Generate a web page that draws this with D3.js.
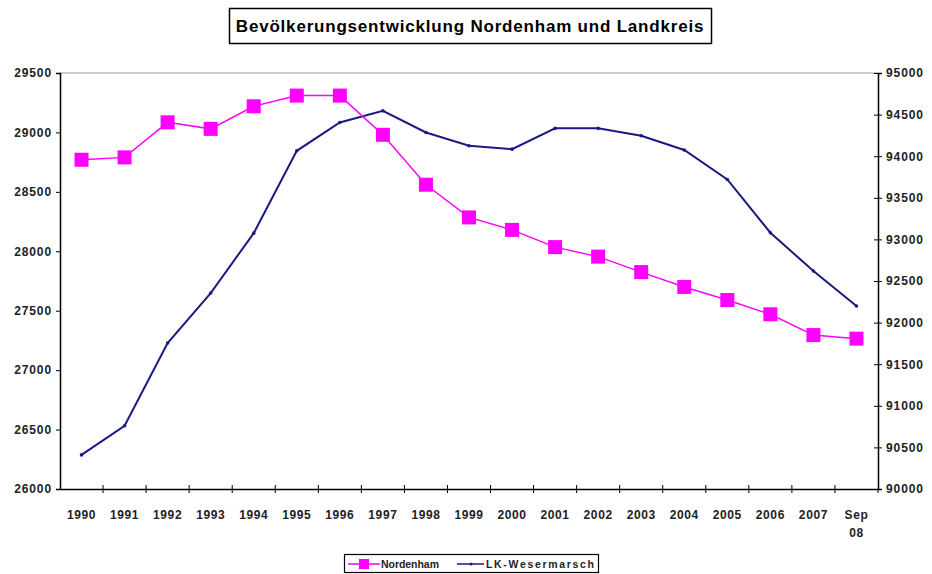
<!DOCTYPE html>
<html>
<head>
<meta charset="utf-8">
<script src="https://cdn.jsdelivr.net/npm/d3@7"></script>
<style>
  body { margin: 0; background: #fff; }
  svg { font-family: "Liberation Sans", Arial, sans-serif; }
</style>
</head>
<body>
<svg id="chart" width="932" height="574"></svg>
<script>
// categories on the x axis
const years = ["1990", "1991", "1992", "1993", "1994", "1995", "1996", "1997", "1998", "1999",
  "2000", "2001", "2002", "2003", "2004", "2005", "2006", "2007", "Sep 08"];
// Nordenham (left axis)
const nordenham = [28770, 28790, 29085, 29030, 29220, 29310, 29310, 28980, 28560, 28285,
  28180, 28035, 27955, 27825, 27700, 27590, 27470, 27295, 27265];
// LK-Wesermarsch (right axis)
const wesermarsch = [90410, 90760, 91755, 92355, 93075, 94065, 94405, 94545, 94285, 94125,
  94085, 94335, 94335, 94245, 94075, 93720, 93080, 92620, 92200];
const leftTicks = [26000, 26500, 27000, 27500, 28000, 28500, 29000, 29500];
const rightTicks = [90000, 90500, 91000, 91500, 92000, 92500, 93000, 93500, 94000, 94500, 95000];

const svg = d3.select("#chart");
const plotL = 60, plotR = 878, plotT = 73, plotB = 489;

let x = d3.scaleBand()
  .domain(years)
  .range([plotL, plotR]);

let yL = d3.scaleLinear()
  .domain([26000, 29500])
  .range([plotB, plotT]);

let yR = d3.scaleLinear()
  .domain([90000, 95000])
  .range([plotB, plotT]);

// plot area frame (gray top line)
svg.append("line")
  .attr("x1", plotL).attr("x2", plotR)
  .attr("y1", plotT).attr("y2", plotT)
  .attr("stroke", "#999").attr("stroke-width", 1);

// left axis
let gL = svg.append("g")
  .attr("transform", "translate(" + plotL + ",0)")
  .call(d3.axisLeft(yL).tickValues(leftTicks).tickSize(4).tickFormat(d3.format("d")));
gL.selectAll("text")
  .attr("x", -8)
  .style("font-size", "12px").style("font-weight", "bold").style("letter-spacing", "0.9px")
  .attr("fill", "#222");

// right axis
let gR = svg.append("g")
  .attr("transform", "translate(" + plotR + ",0)")
  .call(d3.axisRight(yR).tickValues(rightTicks).tickSize(4).tickFormat(d3.format("d")));
gR.selectAll(".tick line").attr("x1", -4);
gR.selectAll("text")
  .attr("x", 8)
  .style("font-size", "12px").style("font-weight", "bold").style("letter-spacing", "0.9px")
  .attr("fill", "#222");

// x axis, ticks between categories
let gX = svg.append("g")
  .attr("transform", "translate(0," + plotB + ")")
  .call(d3.axisBottom(x).tickSize(0).tickFormat(""));
gX.selectAll(".tick").remove();
years.forEach((d, i) => {
  if (i === 0) return;
  gX.append("line")
    .attr("x1", x(d)).attr("x2", x(d))
    .attr("y1", -4).attr("y2", 4)
    .attr("stroke", "#000");
});
gX.append("line")
  .attr("x1", plotR).attr("x2", plotR).attr("y1", 0).attr("y2", 4).attr("stroke", "#000");

svg.selectAll(".domain").attr("stroke", "#000").attr("stroke-width", 1.5);

svg.append("g").selectAll("text")
  .data(years)
  .enter()
  .append("text")
    .attr("x", d => x(d) + x.bandwidth() / 2)
    .attr("y", 519)
    .attr("text-anchor", "middle")
    .style("font-size", "12px").style("font-weight", "bold").style("letter-spacing", "0.6px")
    .attr("fill", "#222")
    .each(function(d) {
      let parts = d.split(" ");
      let t = d3.select(this);
      parts.forEach((p, i) => {
        t.append("tspan")
          .attr("x", x(d) + x.bandwidth() / 2)
          .attr("dy", i === 0 ? 0 : 18)
          .text(p);
      });
    });

// LK-Wesermarsch line
let lineR = d3.line()
  .x((d, i) => x(years[i]) + x.bandwidth() / 2)
  .y(d => yR(d));
svg.append("path")
  .datum(wesermarsch)
  .attr("fill", "none")
  .attr("stroke", "#1a1a80")
  .attr("stroke-width", 2)
  .attr("d", lineR);
svg.append("g").selectAll("circle")
  .data(wesermarsch)
  .enter()
  .append("circle")
    .attr("cx", (d, i) => x(years[i]) + x.bandwidth() / 2)
    .attr("cy", d => yR(d))
    .attr("r", 1.8)
    .attr("fill", "#1a1a80");

// Nordenham line
let lineL = d3.line()
  .x((d, i) => x(years[i]) + x.bandwidth() / 2)
  .y(d => yL(d));
svg.append("path")
  .datum(nordenham)
  .attr("fill", "none")
  .attr("stroke", "#ff00ff")
  .attr("stroke-width", 1.5)
  .attr("d", lineL);
svg.append("g").selectAll("rect")
  .data(nordenham)
  .enter()
  .append("rect")
    .attr("x", (d, i) => x(years[i]) + x.bandwidth() / 2 - 7)
    .attr("y", d => yL(d) - 7)
    .attr("width", 14)
    .attr("height", 14)
    .attr("fill", "#ff00ff");

// title
svg.append("rect")
  .attr("x", 229.5).attr("y", 8.5)
  .attr("width", 482).attr("height", 35)
  .attr("fill", "#fff").attr("stroke", "#000").attr("stroke-width", 1.5);
svg.append("text")
  .attr("x", 470).attr("y", 32)
  .attr("text-anchor", "middle")
  .style("font-size", "17px").style("font-weight", "bold").style("letter-spacing", "0.8px")
  .text("Bevölkerungsentwicklung Nordenham und Landkreis");

// legend
let lg = svg.append("g");
lg.append("rect")
  .attr("x", 344.5).attr("y", 554.5)
  .attr("width", 254).attr("height", 18)
  .attr("fill", "#fff").attr("stroke", "#000").attr("stroke-width", 1.2);
lg.append("line")
  .attr("x1", 348).attr("x2", 380).attr("y1", 564).attr("y2", 564)
  .attr("stroke", "#ff00ff").attr("stroke-width", 1.5);
lg.append("rect")
  .attr("x", 359).attr("y", 559).attr("width", 10).attr("height", 10)
  .attr("fill", "#ff00ff");
lg.append("text")
  .attr("x", 381).attr("y", 568)
  .attr("textLength", 58).attr("lengthAdjust", "spacing")
  .style("font-size", "10.5px").style("font-weight", "bold").attr("fill", "#222")
  .text("Nordenham");
lg.append("line")
  .attr("x1", 457).attr("x2", 484).attr("y1", 564).attr("y2", 564)
  .attr("stroke", "#1a1a80").attr("stroke-width", 1.5);
lg.append("circle")
  .attr("cx", 471).attr("cy", 564).attr("r", 1.5).attr("fill", "#1a1a80");
lg.append("text")
  .attr("x", 486).attr("y", 568)
  .attr("textLength", 108).attr("lengthAdjust", "spacing")
  .style("font-size", "10.5px").style("font-weight", "bold").attr("fill", "#222")
  .text("LK-Wesermarsch");
</script>
</body>
</html>
